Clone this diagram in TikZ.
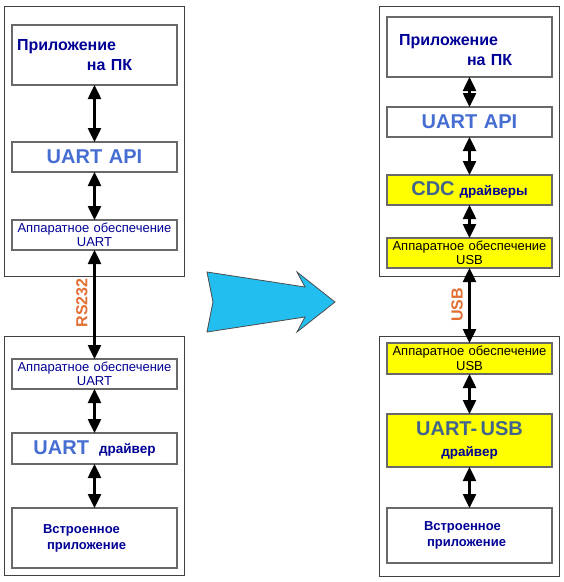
\documentclass[tikz,border=0pt]{standalone}
\usepackage{fontspec}
\setmainfont{Liberation Sans}
\usetikzlibrary{positioning, arrows.meta}
\definecolor{myblue}{RGB}{70,110,210}
\definecolor{mynavy}{RGB}{0,0,150}
\definecolor{mysteel}{RGB}{65,100,140}
\definecolor{myorange}{RGB}{225,110,50}
\definecolor{mycyan}{RGB}{35,190,240}
\definecolor{myyellow}{RGB}{255,255,0}
\definecolor{mygray}{RGB}{105,105,105}
\tikzset{
  outer/.style={draw=black!75, line width=1, minimum width=180, inner sep=0, outer sep=0},
  layer/.style={draw=mygray, line width=1.5, fill=white, minimum width=165, inner sep=0,
    outer sep=0, text width=155, align=center},
  ylayer/.style={layer, fill=myyellow},
  hwtext/.style={font=\fontsize{13}{14.5}\selectfont},
  apptext/.style={align=left, text=mynavy, font=\bfseries\fontsize{16}{20}\selectfont},
  mcutext/.style={align=left, text=mynavy, font=\bfseries\fontsize{13}{16}\selectfont},
  bigtext/.style={font=\bfseries\fontsize{20}{22}\selectfont},
  dblarrow/.style={<->, line width=2.5, black},
  link/.style={rotate=90, text=myorange, font=\bfseries\fontsize{16}{16}\selectfont}
}
\newcommand{\drv}[1]{{\color{mynavy}\bfseries\fontsize{13.5}{15}\selectfont #1}}

\begin{document}
\begin{tikzpicture}[x=1pt, y=-1pt, >={Triangle[width=13pt,length=14pt]}]
\useasboundingbox (0,0) rectangle (564,582);

% left side: PC and device with RS232
\node [outer, minimum height=270] (pcbox) at (94,141) {};
\node [outer, minimum height=239] (mcubox) at (94,455.5) {};

\node [layer, apptext, minimum height=60] (pcapp) at (94.5,55)
  {Приложение\\\hspace*{70pt}на ПК};
\node [layer, bigtext, text=myblue, minimum height=30] (uartapi) at (94.5,157) {UART API};
\node [layer, hwtext, text=mynavy, minimum height=30] (uarthw) at (94.5,235)
  {Аппаратное обеспечение\\UART};

\node [layer, hwtext, text=mynavy, minimum height=30] (uarthwb) at (94.5,374)
  {Аппаратное обеспечение\\UART};
\node [layer, minimum height=31] (uartdrv) at (94.5,448.5)
  {{\color{myblue}\bfseries\fontsize{20}{22}\selectfont UART}\hspace{10pt}\raisebox{1.5pt}{\drv{драйвер}}};
\node [layer, mcutext, minimum height=60] (mcuapp) at (94.5,538)
  {\hspace*{26pt}Встроенное\\\hspace*{30pt}приложение};

\draw [dblarrow] (pcapp) -- (uartapi);
\draw [dblarrow] (uartapi) -- (uarthw);
\draw [dblarrow] (uarthw) -- (uarthwb);
\draw [dblarrow] (uarthwb) -- (uartdrv);
\draw [dblarrow] (uartdrv) -- (mcuapp);
\node [link] (rs) at (82,303) {RS232};

% big arrow
\filldraw [fill=mycyan, draw=black!70, line width=0.8]
  (207,272) -- (305,287) -- (297,272) -- (335,302) -- (297,332)
  -- (305,317) -- (207,332) -- (213,302) -- cycle;

% right side: PC and device with USB
\node [outer, minimum height=270] (pcbox2) at (469,141) {};
\node [outer, minimum height=240] (mcubox2) at (469,456) {};

\node [layer, apptext, minimum height=60] (pcapp2) at (469.5,47)
  {\rule{0pt}{18pt}\hspace*{7pt}Приложение\\\hspace*{75pt}на ПК};
\node [layer, bigtext, text=myblue, minimum height=30] (uartapi2) at (469.5,122) {UART API};
\node [ylayer, minimum height=30] (cdc) at (469.5,190)
  {{\color{mysteel}\bfseries\fontsize{20}{22}\selectfont CDC}\hspace{5pt}\drv{драйверы}};
\node [ylayer, hwtext, minimum height=30] (usbhw) at (469.5,253)
  {Аппаратное обеспечение\\USB};

\node [ylayer, hwtext, minimum height=31] (usbhwb) at (469.5,358.5)
  {Аппаратное обеспечение\\USB};
\node [ylayer, minimum height=53] (bridge) at (469.5,440.5)
  {{\color{mysteel}\bfseries\fontsize{20}{23}\selectfont UART-\ USB}\\[9pt]\drv{драйвер}};
\node [layer, mcutext, minimum height=55] (mcuapp2) at (469.5,535.5)
  {\hspace*{32pt}Встроенное\\\hspace*{35pt}приложение};

\draw [dblarrow] (pcapp2) -- (uartapi2);
\draw [dblarrow] (uartapi2) -- (cdc);
\draw [dblarrow] (cdc) -- (usbhw);
\draw [dblarrow] (usbhw) -- (usbhwb);
\draw [dblarrow] (usbhwb) -- (bridge);
\draw [dblarrow] (bridge) -- (mcuapp2);
\node [link] (usb) at (457,305) {USB};
\end{tikzpicture}
\end{document}
